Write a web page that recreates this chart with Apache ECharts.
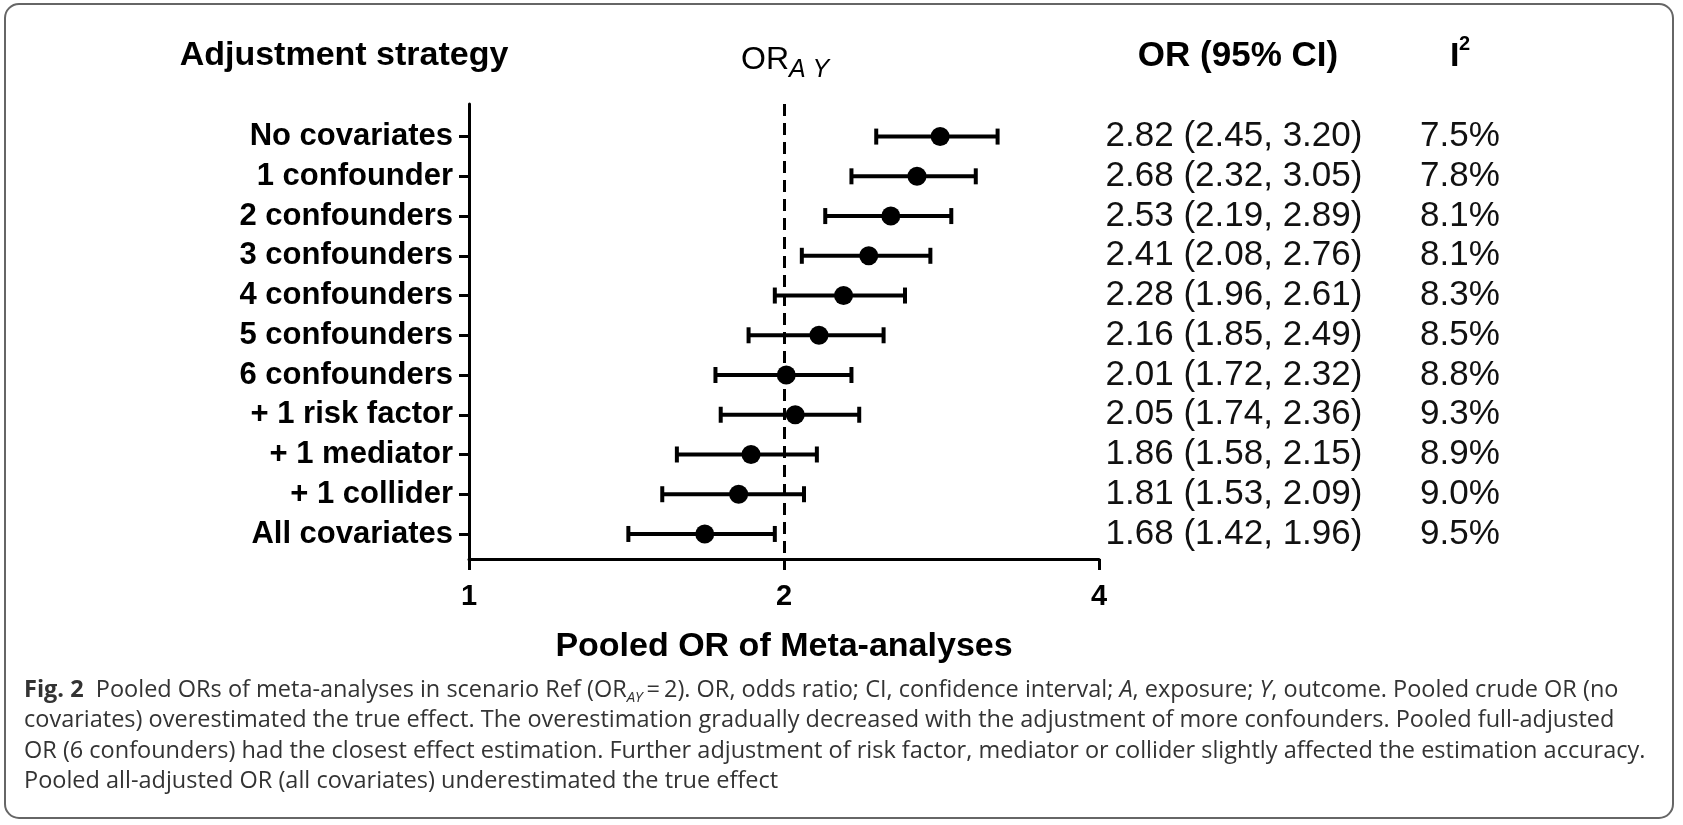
<!DOCTYPE html>
<html>
<head>
<meta charset="utf-8">
<title>Pooled OR of Meta-analyses</title>
<script src="https://cdn.jsdelivr.net/npm/echarts@6/dist/echarts.min.js"></script>
<style>
  html, body { margin: 0; padding: 0; background: #fff; }
  #chart { width: 1683px; height: 825px; }
</style>
</head>
<body>
<div id="chart"></div>
<script>
// data
const categories = ['No covariates', '1 confounder', '2 confounders', '3 confounders', '4 confounders',
  '5 confounders', '6 confounders', '+ 1 risk factor', '+ 1 mediator', '+ 1 collider', 'All covariates'];
const orValues = [2.82, 2.68, 2.53, 2.41, 2.28, 2.16, 2.01, 2.05, 1.86, 1.81, 1.68];
const ciLower = [2.45, 2.32, 2.19, 2.08, 1.96, 1.85, 1.72, 1.74, 1.58, 1.53, 1.42];
const ciUpper = [3.20, 3.05, 2.89, 2.76, 2.61, 2.49, 2.32, 2.36, 2.15, 2.09, 1.96];
const i2Values = ['7.5%', '7.8%', '8.1%', '8.1%', '8.3%', '8.5%', '8.8%', '9.3%', '8.9%', '9.0%', '9.5%'];
const xTicks = [1, 2, 4];
const trueOR = 2;

const rowIdx = categories.map((c, i) => i);
const FONT = 'Liberation Sans, Arial, Helvetica, sans-serif';
const CAP_FONT = 'Open Sans, Noto Sans, sans-serif';

// text of the OR (95% CI) column
const orText = orValues.map((v, i) => v.toFixed(2) + ' (' + ciLower[i].toFixed(2) + ', ' + ciUpper[i].toFixed(2) + ')');

const chart = echarts.init(document.getElementById('chart'), null, { renderer: 'canvas' });

// side column axes (text only)
function textColumn(offset, labels) {
  return {
    type: 'value', inverse: true, min: -0.82, max: 10.63, position: 'right', offset: offset,
    axisLine: { show: false }, axisTick: { show: false }, splitLine: { show: false },
    axisLabel: {
      customValues: rowIdx, margin: 0, align: 'center',
      fontFamily: FONT, fontSize: 35, color: '#111',
      formatter: v => labels[Math.round(v)]
    }
  };
}

const captionLines = [
  '{b|Fig. 2}  Pooled ORs of meta-analyses in scenario Ref (OR{sub|AY}\u2009=\u20092). OR, odds ratio; CI, confidence interval; {i|A}, exposure; {i|Y}, outcome. Pooled crude OR (no',
  'covariates) overestimated the true effect. The overestimation gradually decreased with the adjustment of more confounders. Pooled full-adjusted',
  'OR (6 confounders) had the closest effect estimation. Further adjustment of risk factor, mediator or collider slightly affected the estimation accuracy.',
  'Pooled all-adjusted OR (all covariates) underestimated the true effect'
];

const option = {
  animation: false,
  backgroundColor: '#fff',
  graphic: [{
    type: 'rect', silent: true,
    shape: { x: 5, y: 4, width: 1668, height: 814, r: 14 },
    style: { fill: 'none', stroke: '#666', lineWidth: 2 }
  }],
  title: [
    { text: 'Adjustment strategy', left: 339, top: 31, textAlign: 'center',
      textStyle: { fontFamily: FONT, fontSize: 34, fontWeight: 'bold', color: '#000', lineHeight: 40 } },
    { text: 'OR', left: 736, top: 37, textStyle: { fontFamily: FONT, fontSize: 32, fontWeight: 'normal', color: '#000', lineHeight: 36 } },
    { text: 'A Y', left: 784, top: 50, textStyle: { fontFamily: FONT, fontSize: 25, fontStyle: 'italic', fontWeight: 'normal', color: '#000', lineHeight: 30 } },
    { text: 'OR (95% CI)', left: 1233, top: 31, textAlign: 'center',
      textStyle: { fontFamily: FONT, fontSize: 35, fontWeight: 'bold', color: '#000', lineHeight: 40 } },
    { text: 'I', left: 1445, top: 32, textStyle: { fontFamily: FONT, fontSize: 34, fontWeight: 'bold', color: '#000', lineHeight: 40 } },
    { text: '2', left: 1454, top: 27, textStyle: { fontFamily: FONT, fontSize: 20, fontWeight: 'bold', color: '#000', lineHeight: 24 } },
    { text: captionLines.join('\n'), left: 19, top: 670,
      textStyle: {
        fontFamily: CAP_FONT, fontSize: 23.5, fontWeight: 'normal', color: '#333', lineHeight: 30.5,
        rich: {
          b: { fontFamily: CAP_FONT, fontSize: 23.5, fontWeight: 'bold', color: '#333', lineHeight: 30.5 },
          i: { fontFamily: CAP_FONT, fontSize: 23.5, fontStyle: 'italic', color: '#333', lineHeight: 30.5 },
          sub: { fontFamily: CAP_FONT, fontSize: 15, fontStyle: 'italic', color: '#333', lineHeight: 30.5, padding: [14, 0, 0, 0] }
        }
      } }
  ],
  grid: { left: 469, right: 584, top: 104, bottom: 266 },
  xAxis: {
    type: 'log', logBase: 2, min: xTicks[0], max: xTicks[xTicks.length - 1],
    name: 'Pooled OR of Meta-analyses', nameLocation: 'middle', nameGap: 71,
    nameTextStyle: { fontFamily: FONT, fontSize: 34, fontWeight: 'bold', color: '#000' },
    axisLine: { onZero: false, lineStyle: { color: '#000', width: 3 } },
    axisTick: { customValues: xTicks, length: 11, lineStyle: { color: '#000', width: 3 } },
    minorTick: { show: false },
    splitLine: { show: false },
    axisLabel: { customValues: xTicks, margin: 23, fontFamily: FONT, fontSize: 29, fontWeight: 'bold', color: '#000' }
  },
  yAxis: [
    {
      type: 'value', inverse: true, min: -0.82, max: 10.63,
      axisLine: { show: true, onZero: false, lineStyle: { color: '#000', width: 3 } },
      axisTick: { customValues: rowIdx, length: 10, lineStyle: { color: '#000', width: 3 } },
      splitLine: { show: false },
      axisLabel: {
        customValues: rowIdx, margin: 16,
        fontFamily: FONT, fontSize: 31, fontWeight: 'bold', color: '#000',
        formatter: v => categories[Math.round(v)]
      }
    },
    textColumn(135, orText),
    textColumn(361, i2Values)
  ],
  series: [
    {
      // confidence intervals with end caps
      type: 'custom',
      xAxisIndex: 0, yAxisIndex: 0,
      encode: { x: [0, 1], y: 2 },
      data: ciLower.map((lo, i) => [lo, ciUpper[i], i]),
      renderItem: function (params, api) {
        const a = api.coord([api.value(0), api.value(2)]);
        const b = api.coord([api.value(1), api.value(2)]);
        const cap = 8;
        const st = { stroke: '#000', lineWidth: 4 };
        return {
          type: 'group',
          children: [
            { type: 'line', shape: { x1: a[0], y1: a[1], x2: b[0], y2: b[1] }, style: st },
            { type: 'line', shape: { x1: a[0], y1: a[1] - cap, x2: a[0], y2: a[1] + cap }, style: st },
            { type: 'line', shape: { x1: b[0], y1: b[1] - cap, x2: b[0], y2: b[1] + cap }, style: st }
          ]
        };
      },
      z: 2
    },
    {
      type: 'scatter',
      xAxisIndex: 0, yAxisIndex: 0,
      data: orValues.map((v, i) => [v, i]),
      symbol: 'circle', symbolSize: 19,
      itemStyle: { color: '#000', opacity: 1 },
      z: 3,
      markLine: {
        silent: true, symbol: 'none',
        label: { show: false },
        lineStyle: { color: '#000', width: 3, type: [12, 7], opacity: 1 },
        data: [{ xAxis: trueOR }]
      }
    }
  ]
};

chart.setOption(option);
</script>
</body>
</html>
